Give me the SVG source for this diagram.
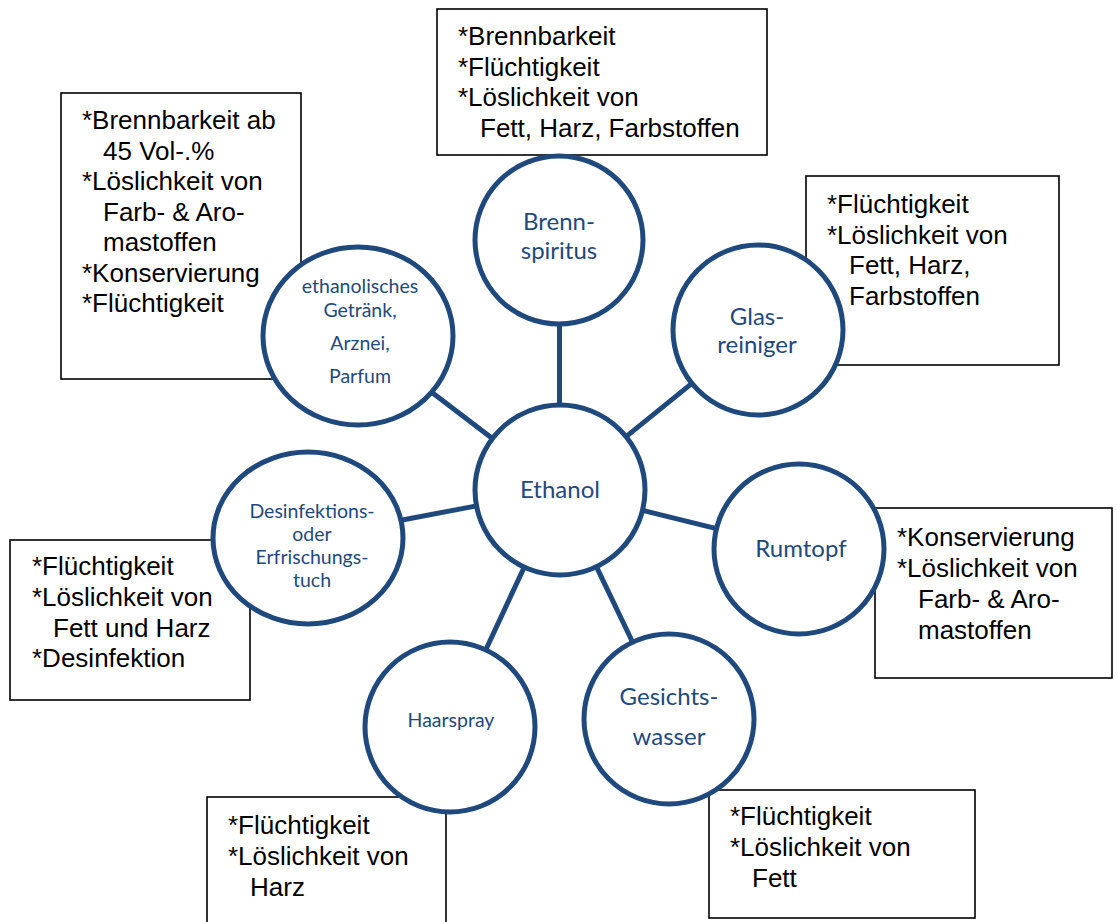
<svg xmlns="http://www.w3.org/2000/svg" width="1117" height="922" viewBox="0 0 1117 922">
<style>
.box rect{fill:#fff;stroke:#000;stroke-width:1.6}
.box text{font-family:"Liberation Sans",Arial,sans-serif;font-size:26px;fill:#000}
.node ellipse,.node circle{fill:#fff;stroke:#1F497D;stroke-width:5}
.node text{font-family:Lato,"Open Sans",sans-serif;font-size:24px;fill:#1F497D;text-anchor:middle}
.node text.s{font-size:19.5px}
#connectors line{stroke:#1F497D;stroke-width:5}
</style>
<rect width="1117" height="922" fill="#fff"/>
<g id="box-top" class="box">
<rect x="437" y="9" width="330" height="146"/>
<text x="458" y="45">*Brennbarkeit</text>
<text x="458" y="75.5">*Flüchtigkeit</text>
<text x="458" y="106">*Löslichkeit von</text>
<text x="480" y="137">Fett, Harz, Farbstoffen</text>
</g>
<g id="box-lefttop" class="box">
<rect x="61" y="93" width="240" height="286"/>
<text x="82" y="129">*Brennbarkeit ab</text>
<text x="103" y="159.5">45 Vol-.%</text>
<text x="82" y="190">*Löslichkeit von</text>
<text x="103" y="220.5">Farb- &amp; Aro-</text>
<text x="103" y="251">mastoffen</text>
<text x="82" y="281.5">*Konservierung</text>
<text x="82" y="312">*Flüchtigkeit</text>
</g>
<g id="box-righttop" class="box">
<rect x="806" y="176" width="253" height="189"/>
<text x="827" y="213">*Flüchtigkeit</text>
<text x="827" y="243.5">*Löslichkeit von</text>
<text x="849" y="274">Fett, Harz,</text>
<text x="849" y="304.5">Farbstoffen</text>
</g>
<g id="box-rumtopf" class="box">
<rect x="875" y="508" width="237" height="170"/>
<text x="897" y="546">*Konservierung</text>
<text x="897" y="577">*Löslichkeit von</text>
<text x="918" y="608">Farb- &amp; Aro-</text>
<text x="918" y="639">mastoffen</text>
</g>
<g id="box-desinf" class="box">
<rect x="10" y="540" width="240" height="160"/>
<text x="32" y="575">*Flüchtigkeit</text>
<text x="32" y="606">*Löslichkeit von</text>
<text x="53" y="636.5">Fett und Harz</text>
<text x="32" y="667">*Desinfektion</text>
</g>
<g id="box-haarspray" class="box">
<rect x="207" y="797" width="239" height="130"/>
<text x="228" y="834">*Flüchtigkeit</text>
<text x="228" y="865">*Löslichkeit von</text>
<text x="250" y="896">Harz</text>
</g>
<g id="box-gesicht" class="box">
<rect x="709" y="790" width="266" height="128"/>
<text x="730" y="825">*Flüchtigkeit</text>
<text x="730" y="856">*Löslichkeit von</text>
<text x="752" y="887">Fett</text>
</g>
<g id="connectors">
<line x1="559.5" y1="405" x2="559.5" y2="324"/>
<line x1="626.1" y1="436.6" x2="691.9" y2="383.4"/>
<line x1="642.5" y1="510.4" x2="716.5" y2="528.6"/>
<line x1="596.5" y1="566.8" x2="632.5" y2="642"/>
<line x1="524.2" y1="567.2" x2="485.8" y2="649.8"/>
<line x1="476.5" y1="505.9" x2="401" y2="520.3"/>
<line x1="492.4" y1="438.5" x2="431.7" y2="392.2"/>
</g>
<g id="node-ethanol" class="node">
<circle cx="560" cy="490" r="85"/>
<text x="560" y="498">Ethanol</text>
</g>
<g id="node-brennspiritus" class="node">
<circle cx="559" cy="240" r="84"/>
<text x="559" y="230">Brenn-</text>
<text x="559" y="259">spiritus</text>
</g>
<g id="node-glasreiniger" class="node">
<circle cx="758" cy="330" r="85"/>
<text x="757" y="325">Glas-</text>
<text x="757" y="353">reiniger</text>
</g>
<g id="node-rumtopf" class="node">
<circle cx="799" cy="549" r="85"/>
<text x="801" y="557">Rumtopf</text>
</g>
<g id="node-gesichtswasser" class="node">
<circle cx="669" cy="719" r="85"/>
<text x="669" y="705">Gesichts-</text>
<text x="669" y="745">wasser</text>
</g>
<g id="node-haarspray" class="node">
<circle cx="450" cy="727" r="85"/>
<text class="s" x="451" y="727">Haarspray</text>
</g>
<g id="node-getraenk" class="node">
<ellipse cx="358" cy="336" rx="95" ry="89"/>
<text class="s" x="360" y="293">ethanolisches</text>
<text class="s" x="360" y="317">Getränk,</text>
<text class="s" x="360" y="350">Arznei,</text>
<text class="s" x="360" y="383">Parfum</text>
</g>
<g id="node-desinfektion" class="node">
<ellipse cx="308" cy="538" rx="95" ry="86"/>
<text class="s" x="312" y="518">Desinfektions-</text>
<text class="s" x="312" y="541">oder</text>
<text class="s" x="312" y="564">Erfrischungs-</text>
<text class="s" x="312" y="587">tuch</text>
</g>
</svg>
